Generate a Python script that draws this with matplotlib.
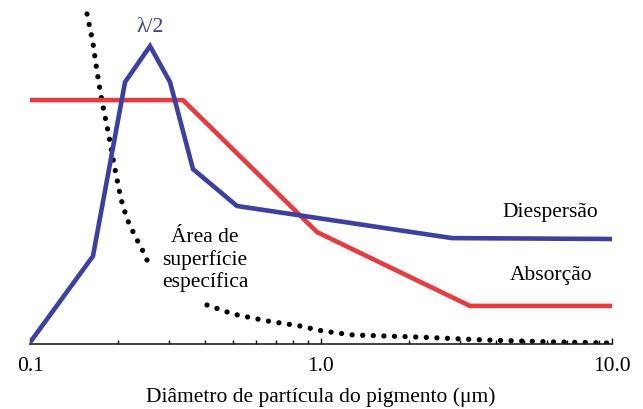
import numpy as np
import matplotlib
matplotlib.use("Agg")
import matplotlib.pyplot as plt

plt.rcParams["font.family"] = ["Liberation Serif", "DejaVu Serif"]

# -----------------------------
# Data (arbitrary y units, log x in µm)
# -----------------------------
disp_x = [0.1, 0.1646, 0.2121, 0.2585, 0.3029, 0.3632, 0.5145, 2.82, 10.0]
disp_y = [0.005, 0.293, 0.873, 0.993, 0.873, 0.583, 0.46, 0.353, 0.35]

abs_x = [0.1, 0.3356, 0.969, 3.25, 10.0]
abs_y = [0.813, 0.813, 0.373, 0.127, 0.127]

# specific surface area (gap where the label sits)
area_x = [0.157, 0.1646, 0.170, 0.1768, 0.1854, 0.1929, 0.199, 0.2055, 0.2154,
          0.2295, 0.2444, 0.2604, np.nan,
          0.4056, 0.4983, 0.6523, 0.847, 1.016, 1.288, 2.19, 3.72, 6.27, 10.0]
area_y = [1.10, 1.003, 0.907, 0.807, 0.71, 0.617, 0.55, 0.483, 0.417,
          0.36, 0.31, 0.25, np.nan,
          0.13, 0.10, 0.077, 0.06, 0.043, 0.03, 0.023, 0.013, 0.007, 0.003]

tick_vals = [0.1, 1.0, 10.0]
tick_labels = ["0.1", "1.0", "10.0"]

blue = "#3c40a0"
red = "#e63c40"

# -----------------------------
# Plot
# -----------------------------
fig = plt.figure(figsize=(6.43, 4.10), dpi=100)
ax = fig.add_axes([30 / 643, 65 / 410, 582 / 643, 345 / 410])

ax.plot(area_x, area_y, color="black", lw=3.8, linestyle=(0, (0.01, 2.0)),
        dash_capstyle="round", zorder=2)
ax.plot(abs_x, abs_y, color=red, lw=3.3, solid_joinstyle="miter", zorder=3)
ax.plot(disp_x, disp_y, color=blue, lw=3.3, solid_joinstyle="miter", zorder=4)

ax.set_xscale("log")
ax.set_xlim(0.1, 10.0)
ax.set_ylim(0, 1.15)

for side in ["top", "right", "left"]:
    ax.spines[side].set_visible(False)
ax.spines["bottom"].set_linewidth(1.2)
ax.spines["bottom"].set_color("#222222")
ax.set_yticks([])

ax.set_xticks(tick_vals)
ax.set_xticklabels(tick_labels, fontsize=15.5)
ax.tick_params(axis="x", which="major", direction="in", length=4, width=1, pad=9)
ax.tick_params(axis="x", which="minor", direction="in", length=3, width=1)
ax.xaxis.set_minor_formatter(matplotlib.ticker.NullFormatter())

ax.set_xlabel("Diâmetro de partícula do pigmento (μm)", fontsize=15.5, labelpad=8)

ax.text(0.2585, 1.057, "λ/2", color=blue, fontsize=15.5, ha="center", va="center")
ax.text(6.12, 0.44, "Diespersão", fontsize=15.5, ha="center", va="center")
ax.text(6.2, 0.23, "Absorção", fontsize=15.5, ha="center", va="center")
ax.text(0.399, 0.283, "Área de\nsuperfície\nespecífica", fontsize=15.5,
        ha="center", va="center", linespacing=1.2)

fig.savefig("out.png", dpi=100)
